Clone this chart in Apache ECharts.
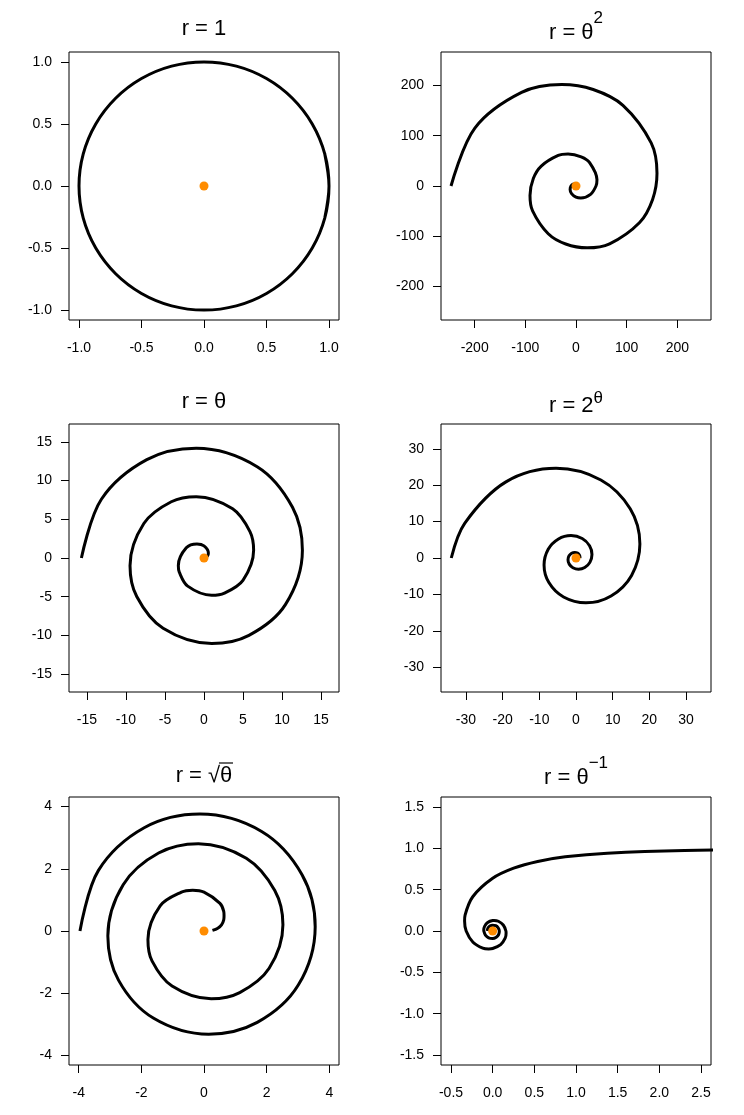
<!DOCTYPE html>
<html>
<head>
<meta charset="utf-8">
<script src="https://cdn.jsdelivr.net/npm/echarts@6/dist/echarts.min.js"></script>
<style>
  html, body { margin: 0; padding: 0; background: #fff; }
  #chart { width: 744px; height: 1115px; }
</style>
</head>
<body>
<div id="chart"></div>
<script>
// points, [x, y], in drawing order
const circlePts = [
  [0.966, -0.259],
  [1, 0], [0.966, 0.259], [0.866, 0.5], [0.707, 0.707], [0.5, 0.866], [0.259, 0.966],
  [0, 1], [-0.259, 0.966], [-0.5, 0.866], [-0.707, 0.707], [-0.866, 0.5], [-0.966, 0.259],
  [-1, 0], [-0.966, -0.259], [-0.866, -0.5], [-0.707, -0.707], [-0.5, -0.866], [-0.259, -0.966],
  [0, -1], [0.259, -0.966], [0.5, -0.866], [0.707, -0.707], [0.866, -0.5], [0.966, -0.259],
  [1, 0], [0.966, 0.259],
];

const thetaSqPts = [
  [0, 0], [0.24, 0.14], [0.55, 0.95], [0, 2.47], [-2.19, 3.8], [-5.94, 3.43],
  [-9.87, 0], [-11.63, -6.72], [-8.78, -15.2], [0, -22.21], [9.47, -24.08], [28.73, -16.59],
  [39.48, 0], [41.4, 12.59], [26.87, 46.54], [10.24, 58.07], [-15.73, 63.64], [-35.1, 60.79],
  [-68.61, 39.62], [-84.26, 14.85], [-90.8, -18.85], [-85.71, -49.49], [-54.83, -94.97], [-20.33, -115.31],
  [22.0, -122.89], [66.35, -114.91], [125.6, -72.52], [151.23, -26.66], [159.89, 25.12], [148.39, 85.68],
  [92.67, 160.5], [33.85, 192.0], [-28.27, 201.82], [-107.47, 186.14], [-199.68, 115.29], [-246.74, 0],
];

const thetaPts = [
  [0, 0], [0.45, 0.26], [0.56, 0.65], [0, 1.57], [-0.9, 1.82], [-2.27, 1.31],
  [-3.29, -0.96], [-3.17, -1.83], [-2.09, -3.63], [0.98, -4.81], [2.62, -4.53], [4.99, -2.88],
  [6.36, 0.99], [5.89, 3.4], [3.67, 6.35], [-0.99, 7.92], [-4.19, 7.26], [-7.71, 4.45],
  [-9.48, -0.99], [-8.62, -4.97], [-5.24, -9.07], [1.0, -11.04], [5.76, -9.98], [10.43, -6.02],
  [12.61, 1.0], [11.34, 6.55], [6.81, 11.79], [-1.0, 14.17], [-7.33, 12.7], [-13.15, 7.59],
  [-15.71, 0],
];

const powPts = [
  [1.06, 0], [1.089, 0.24], [0.924, 0.844], [0.424, 1.339], [-0.34, 1.54], [-1.194, 1.306],
  [-1.893, 0.599], [-2.177, -0.48], [-1.847, -1.688], [-0.847, -2.678], [0.679, -3.078], [2.387, -2.612],
  [3.787, -1.198], [4.354, 0.96], [3.694, 3.376], [1.695, 5.356], [-1.358, 6.157], [-4.774, 5.224],
  [-7.575, 2.397], [-8.708, -1.921], [-7.389, -6.752], [-3.39, -10.711], [2.716, -12.315], [9.549, -10.45],
  [15.148, -4.794], [17.416, 3.842], [14.778, 13.505], [6.779, 21.423], [-5.433, 24.63], [-19.099, 20.899],
  [-30.296, 9.587], [-34, 0],
];

const sqrtPts = [
  [0.27, 0.02], [0.44, 0.09], [0.56, 0.2], [0.63, 0.36], [0.64, 0.49], [0.63, 0.63],
  [0.51, 0.89], [0, 1.25], [-0.36, 1.31], [-0.72, 1.25], [-1.4, 0.81], [-1.79, -0.27],
  [-1.66, -0.96], [-1.02, -1.77], [0.23, -2.18], [1.14, -1.98], [2.08, -1.2], [2.52, 0.2],
  [2.26, 1.3], [1.35, 2.34], [-0.18, 2.81], [-1.45, 2.51], [-2.58, 1.49], [-3.07, -0.16],
  [-2.73, -1.58], [-1.62, -2.8], [0.15, -3.32], [1.7, -2.94], [3.01, -1.74], [3.55, 0.14],
  [3.13, 1.81], [1.84, 3.2], [-0.13, 3.76], [-1.91, 3.32], [-3.37, 1.95], [-3.96, 0],
];

const invPts = [
  [3.876, 0.99], [2.303, 0.974], [1.376, 0.941], [0.871, 0.897], [0.54, 0.841], [0.252, 0.759],
  [0, 0.637], [-0.239, 0.414], [-0.331, 0.191], [-0.337, 0.121], [-0.318, 0], [-0.236, -0.136],
  [-0.119, -0.207], [-0.048, -0.217], [0, -0.212], [0.096, -0.165], [0.15, -0.087], [0.161, -0.026],
  [0.159, 0], [0.127, 0.073], [0.068, 0.118], [0.017, 0.128], [0, 0.127], [-0.06, 0.103],
  [-0.097, 0.056], [-0.107, 0.012], [-0.106, 0], [-0.087, -0.05], [-0.048, -0.083], [0, -0.091],
  [0.043, -0.075], [0.072, -0.042], [0.08, 0], [0.066, 0.038], [0.037, 0.064], [0, 0.071],
  [-0.034, 0.059], [-0.057, 0.033], [-0.064, 0],
];

const originPt = [[0, 0]];

// tick values per panel
const ticksOne = [-1, -0.5, 0, 0.5, 1];
const ticksSq = [-200, -100, 0, 100, 200];
const ticksTheta = [-15, -10, -5, 0, 5, 10, 15];
const ticksPow = [-30, -20, -10, 0, 10, 20, 30];
const ticksSqrt = [-4, -2, 0, 2, 4];
const ticksInvX = [-0.5, 0, 0.5, 1, 1.5, 2, 2.5];
const ticksInvY = [-1.5, -1, -0.5, 0, 0.5, 1, 1.5];

const titles = [
  '{b|r = 1}',
  '{z|\u200b}{b|r = θ}{s|2}',
  '{b|r = θ}',
  '{z|\u200b}{b|r = 2}{t|θ}',
  '{b|r = \u221Aθ}',
  '{z|\u200b}{b|r = θ}{u|\u22121}',
];

const FONT = 'Liberation Sans, Arial, sans-serif';

const panels = [
  { data: circlePts, xr: [-1.08, 1.08], yr: [-1.08, 1.08], xt: ticksOne, yt: ticksOne, dec: 1 },
  { data: thetaSqPts, xr: [-266.5, 266.5], yr: [-266.5, 266.5], xt: ticksSq, yt: ticksSq, dec: 0 },
  { data: thetaPts, xr: [-17.3, 17.3], yr: [-17.3, 17.3], xt: ticksTheta, yt: ticksTheta, dec: 0 },
  { data: powPts, xr: [-36.8, 36.8], yr: [-36.8, 36.8], xt: ticksPow, yt: ticksPow, dec: 0 },
  { data: sqrtPts, xr: [-4.31, 4.31], yr: [-4.31, 4.31], xt: ticksSqrt, yt: ticksSqrt, dec: 0 },
  { data: invPts, xr: [-0.62, 2.62], yr: [-1.62, 1.62], xt: ticksInvX, yt: ticksInvY, dec: 1 },
];

const colLeft = [69, 441];
const rowTop = [52, 424, 797];
const titleTop = [14, 4, 387, 377, 761, 749];

function axis(i, range, ticks, dec, isY) {
  return {
    type: 'value',
    gridIndex: i,
    min: range[0],
    max: range[1],
    splitLine: { show: false },
    axisLine: { show: false, onZero: false },
    axisTick: { show: true, length: 8, customValues: ticks, lineStyle: { color: '#000', width: 1 } },
    axisLabel: {
      customValues: ticks,
      margin: isY ? 17 : 21,
      color: '#000',
      fontSize: 14,
      fontFamily: FONT,
      formatter: (v) => v.toFixed(dec),
    },
  };
}

function sup(padTop) {
  return { fontSize: 17, lineHeight: 18, padding: [padTop, 0, 0, 0], verticalAlign: 'top', fontWeight: 'normal', fontFamily: FONT, color: '#000' };
}

const chart = echarts.init(document.getElementById('chart'), null, { renderer: 'canvas' });

chart.setOption({
  animation: false,
  backgroundColor: '#fff',
  title: titles.map((t, i) => ({
    text: t,
    left: colLeft[i % 2] + 135,
    top: titleTop[i],
    textAlign: 'center',
    padding: 0,
    textStyle: {
      fontWeight: 'normal',
      rich: {
        z: { fontSize: 22, lineHeight: 40, fontWeight: 'normal', fontFamily: FONT },
        b: { fontSize: 22, lineHeight: 26, verticalAlign: 'bottom', fontWeight: 'normal', fontFamily: FONT, color: '#000' },
        s: sup(6),
        t: sup(13),
        u: sup(6),
      },
    },
  })),
  // bar over the radicand of r = sqrt(theta)
  graphic: [
    { type: 'line', shape: { x1: 219, y1: 763, x2: 233, y2: 763 }, style: { stroke: '#000', lineWidth: 1.2 } },
  ],
  grid: panels.map((p, i) => ({
    left: colLeft[i % 2],
    top: rowTop[Math.floor(i / 2)],
    width: 270,
    height: 268,
    show: true,
    borderColor: '#000',
    borderWidth: 1,
    containLabel: false,
  })),
  xAxis: panels.map((p, i) => axis(i, p.xr, p.xt, p.dec, false)),
  yAxis: panels.map((p, i) => axis(i, p.yr, p.yt, p.dec, true)),
  series: panels.flatMap((p, i) => [
    {
      type: 'line',
      xAxisIndex: i,
      yAxisIndex: i,
      data: p.data,
      showSymbol: false,
      symbol: 'none',
      smooth: 0.34,
      clip: true,
      lineStyle: { color: '#000', width: 3 },
      z: 2,
    },
    {
      type: 'scatter',
      xAxisIndex: i,
      yAxisIndex: i,
      data: originPt,
      symbolSize: 9,
      itemStyle: { color: '#FF8C00', opacity: 1 },
      z: 3,
    },
  ]),
});
</script>
</body>
</html>
